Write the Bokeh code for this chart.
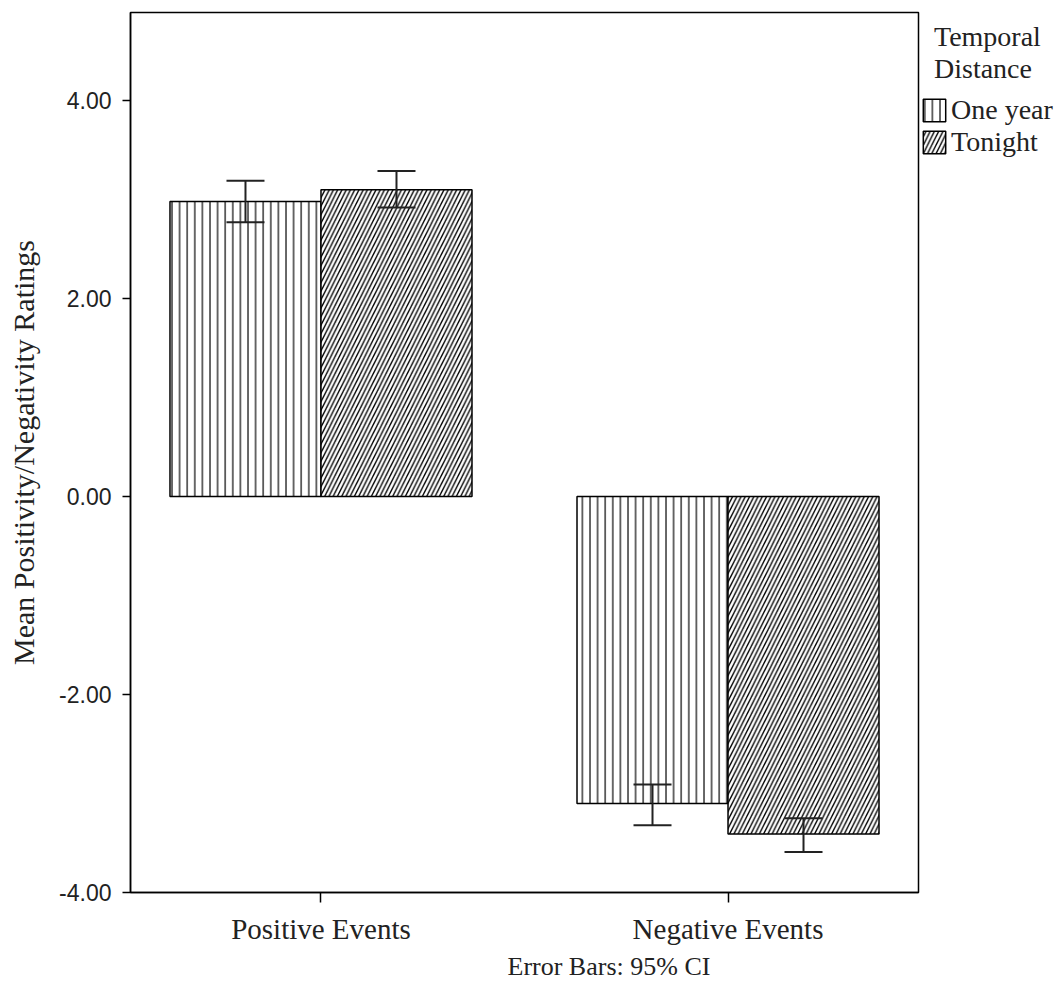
from bokeh.plotting import figure
from bokeh.models import (ColumnDataSource, FactorRange, FixedTicker, NumeralTickFormatter,
                          Whisker, TeeHead, Legend, LegendItem, Range1d, Title)
from bokeh.transform import dodge
from bokeh.embed import file_html
from bokeh.resources import INLINE

# ---- data ----
categories = ["Positive Events", "Negative Events"]
series = ["One year", "Tonight"]
legend_title = "\u00a0\u00a0Temporal\n\u00a0\u00a0Distance"
one_year_mean = [2.98, -3.10]
one_year_lower = [2.77, -3.32]
one_year_upper = [3.19, -2.91]
tonight_mean = [3.10, -3.41]
tonight_lower = [2.92, -3.59]
tonight_upper = [3.29, -3.25]
y_ticks = [-4, -2, 0, 2, 4]

SERIF = "Liberation Serif"
SANS = "Liberation Sans"
TXT = "#222222"

styles = [
    dict(fill_color="white", line_color="black", line_width=1.5,
         hatch_pattern="|", hatch_color="#444444", hatch_scale=7.6, hatch_weight=1.6),
    dict(fill_color="white", line_color="black", line_width=1.5,
         hatch_pattern="/", hatch_color="black", hatch_scale=8.5, hatch_weight=1.4),
]

src1 = ColumnDataSource(dict(cat=categories, mean=one_year_mean, lower=one_year_lower, upper=one_year_upper))
src2 = ColumnDataSource(dict(cat=categories, mean=tonight_mean, lower=tonight_lower, upper=tonight_upper))

x_range = FactorRange(factors=categories, range_padding=-0.032, range_padding_units="absolute")
p = figure(x_range=x_range, y_range=Range1d(-4, 4.89),
           frame_width=788, frame_height=880,
           min_border_left=130, min_border_right=141, min_border_top=12, min_border_bottom=90,
           output_backend="svg", toolbar_location=None, background_fill_color="white")

off = 0.1855
bw = 0.371
r1 = p.vbar(x=dodge("cat", -off, range=p.x_range), top="mean", bottom=0, width=bw, source=src1, **styles[0])
r2 = p.vbar(x=dodge("cat", off, range=p.x_range), top="mean", bottom=0, width=bw, source=src2, **styles[1])

for src, o in ((src1, -off), (src2, off)):
    w = Whisker(base=dodge("cat", o, range=p.x_range), lower="lower", upper="upper", source=src,
                dimension="height", line_color=TXT, line_width=2, level="overlay",
                upper_head=TeeHead(size=38, line_color=TXT, line_width=2),
                lower_head=TeeHead(size=38, line_color=TXT, line_width=2))
    p.add_layout(w)

# axes
p.xgrid.visible = False
p.ygrid.visible = False
p.outline_line_color = "black"
p.outline_line_width = 1.5

p.yaxis.ticker = FixedTicker(ticks=y_ticks)
p.yaxis.formatter = NumeralTickFormatter(format="0.00")
p.yaxis.minor_tick_line_color = None
p.yaxis.major_tick_in = 0
p.yaxis.major_tick_out = 8
p.yaxis.major_label_standoff = 11
p.yaxis.major_label_text_font = SANS
p.yaxis.major_label_text_font_size = "23px"
p.yaxis.major_label_text_color = TXT
p.yaxis.axis_label = "Mean Positivity/Negativity Ratings"
p.yaxis.axis_label_text_font = SERIF
p.yaxis.axis_label_text_font_style = "normal"
p.yaxis.axis_label_text_font_size = "30px"
p.yaxis.axis_label_text_color = TXT
p.yaxis.axis_label_standoff = 16
p.yaxis.axis_line_width = 1.5
p.yaxis.major_tick_line_width = 1.5

p.xaxis.major_tick_in = 0
p.xaxis.major_tick_out = 10
p.xaxis.major_label_standoff = 10
p.xaxis.major_label_text_font = SERIF
p.xaxis.major_label_text_font_size = "29px"
p.xaxis.major_label_text_color = TXT
p.xaxis.axis_line_width = 1.5
p.xaxis.major_tick_line_width = 1.5

# note below the axis
p.add_layout(Title(text="Error Bars: 95% CI", align="left", offset=377, standoff=4,
                   text_font=SERIF, text_font_size="26px", text_font_style="normal",
                   text_color=TXT), "below")

legend = Legend(items=[LegendItem(label=series[0], renderers=[r1]),
                       LegendItem(label=series[1], renderers=[r2])],
                title=legend_title, title_text_font=SERIF, title_text_font_size="28px",
                title_text_font_style="normal", title_text_color=TXT, title_standoff=9,
                title_text_line_height=1.0,
                location=(2, 734), padding=0, margin=0, spacing=0,
                glyph_width=28, glyph_height=28, label_standoff=3, label_height=28,
                label_text_font=SERIF, label_text_font_size="28px", label_text_color=TXT,
                background_fill_alpha=0, border_line_alpha=0)
p.add_layout(legend, "right")

open("out.html", "w").write(file_html(p, INLINE))
